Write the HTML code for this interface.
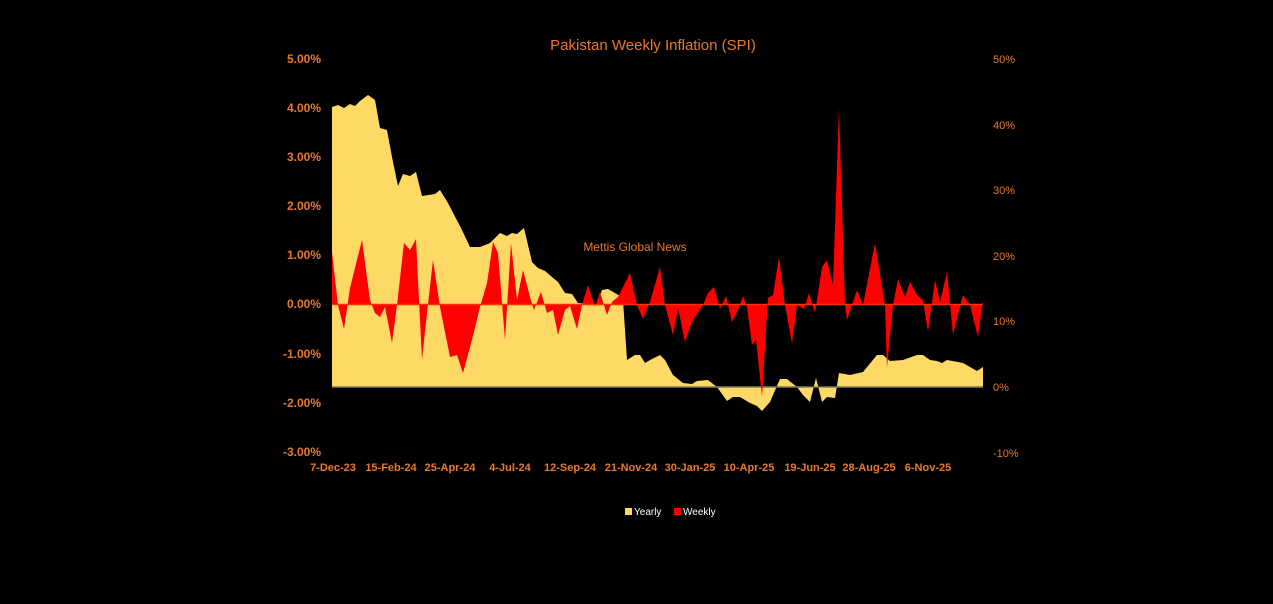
<!DOCTYPE html>
<html><head><meta charset="utf-8"><style>
body{margin:0;background:#000;}
svg{display:block;font-family:"Liberation Sans",sans-serif;}
</style></head><body>
<svg width="1273" height="604" viewBox="0 0 1273 604">
<rect width="1273" height="604" fill="#000"/>
<text x="653" y="50" fill="#E9792B" font-size="15" text-anchor="middle">Pakistan Weekly Inflation (SPI)</text>
<g fill="#E9792B" font-size="12" font-weight="bold" text-anchor="end">
<text x="321" y="63">5.00%</text><text x="321" y="112">4.00%</text><text x="321" y="161">3.00%</text>
<text x="321" y="210">2.00%</text><text x="321" y="259">1.00%</text><text x="321" y="308">0.00%</text>
<text x="321" y="358">-1.00%</text><text x="321" y="407">-2.00%</text><text x="321" y="456">-3.00%</text>
</g>
<g fill="#E9792B" font-size="11" text-anchor="start">
<text x="993" y="63">50%</text><text x="993" y="129">40%</text><text x="993" y="194">30%</text>
<text x="993" y="260">20%</text><text x="993" y="325">10%</text><text x="993" y="391">0%</text>
<text x="993" y="457">-10%</text>
</g>
<g fill="#E9792B" font-size="11" font-weight="bold" text-anchor="middle">
<text x="333" y="471">7-Dec-23</text><text x="391" y="471">15-Feb-24</text><text x="450" y="471">25-Apr-24</text>
<text x="510" y="471">4-Jul-24</text><text x="570" y="471">12-Sep-24</text><text x="631" y="471">21-Nov-24</text>
<text x="690" y="471">30-Jan-25</text><text x="749" y="471">10-Apr-25</text><text x="810" y="471">19-Jun-25</text>
<text x="869" y="471">28-Aug-25</text><text x="928" y="471">6-Nov-25</text>
</g>
<polygon fill="#FFD966" points="332,387 332,107 338,105 344,108 350,104 355,106 360,101 368,95 375,100 380,128 387,130 392,157 398,186 403,174 410,176 416,172 422,196 435,194 440,190 448,203 462,230 470,247 480,247 490,243 500,233 507,236 512,233 517,234 524,228 532,262 538,268 545,271 552,277 558,282 565,293 572,294 578,303 592,304 597,304 602,290 608,289 620,296 623,300 627,360 635,355 640,355 645,363 650,360 660,355 665,360 673,375 683,383 692,384 697,381 708,380 717,387 727,401 733,397 740,397 750,403 757,406 762,411 770,402 780,379 787,379 797,387 803,395 810,402 816,378 822,402 827,397 835,398 839,373 850,375 863,372 877,355 883,355 890,361 903,360 917,355 923,355 930,360 937,361 942,363 947,360 963,363 977,371 983,367 983,387"/>
<line x1="332" y1="387" x2="983" y2="387" stroke="#7f7a5a" stroke-width="1.5"/>
<polygon fill="#FF0000" points="332,304 332,252 338,305 344,329 350,288 362,240 370,300 375,313 380,317 385,307 392,343 397,305 404,243 410,250 416,239 422,360 427,313 433,260 440,307 450,357 457,355 463,373 472,340 480,307 487,283 493,242 498,253 505,340 511,243 517,300 523,270 530,297 534,310 541,292 547,313 553,310 558,335 565,310 570,306 577,329 582,305 588,285 595,307 600,292 607,315 612,302 618,297 625,283 630,273 637,305 643,319 650,302 660,267 665,305 673,335 678,308 685,342 692,322 703,305 708,293 714,287 720,309 726,296 732,322 738,310 743,296 747,307 752,345 756,339 762,397 768,298 773,295 779,257 785,305 792,343 797,305 804,309 809,293 815,313 822,267 827,260 833,285 839,108 845,305 847,320 857,290 863,305 875,243 885,305 887,368 893,305 898,279 905,297 910,282 917,295 923,300 928,332 935,280 940,302 947,272 953,335 963,295 970,305 978,337 983,300 983,304"/>
<line x1="332" y1="304.5" x2="983" y2="304.5" stroke="#FF3000" stroke-width="1.5"/>
<text x="635" y="251" fill="#E9792B" font-size="12" text-anchor="middle">Mettis Global News</text>
<rect x="625" y="508" width="7" height="7" fill="#FFD966"/>
<text x="634" y="515" fill="#fff" font-size="10">Yearly</text>
<rect x="674" y="508" width="7" height="7" fill="#FF0000"/>
<text x="683" y="515" fill="#fff" font-size="10">Weekly</text>
</svg>
</body></html>
